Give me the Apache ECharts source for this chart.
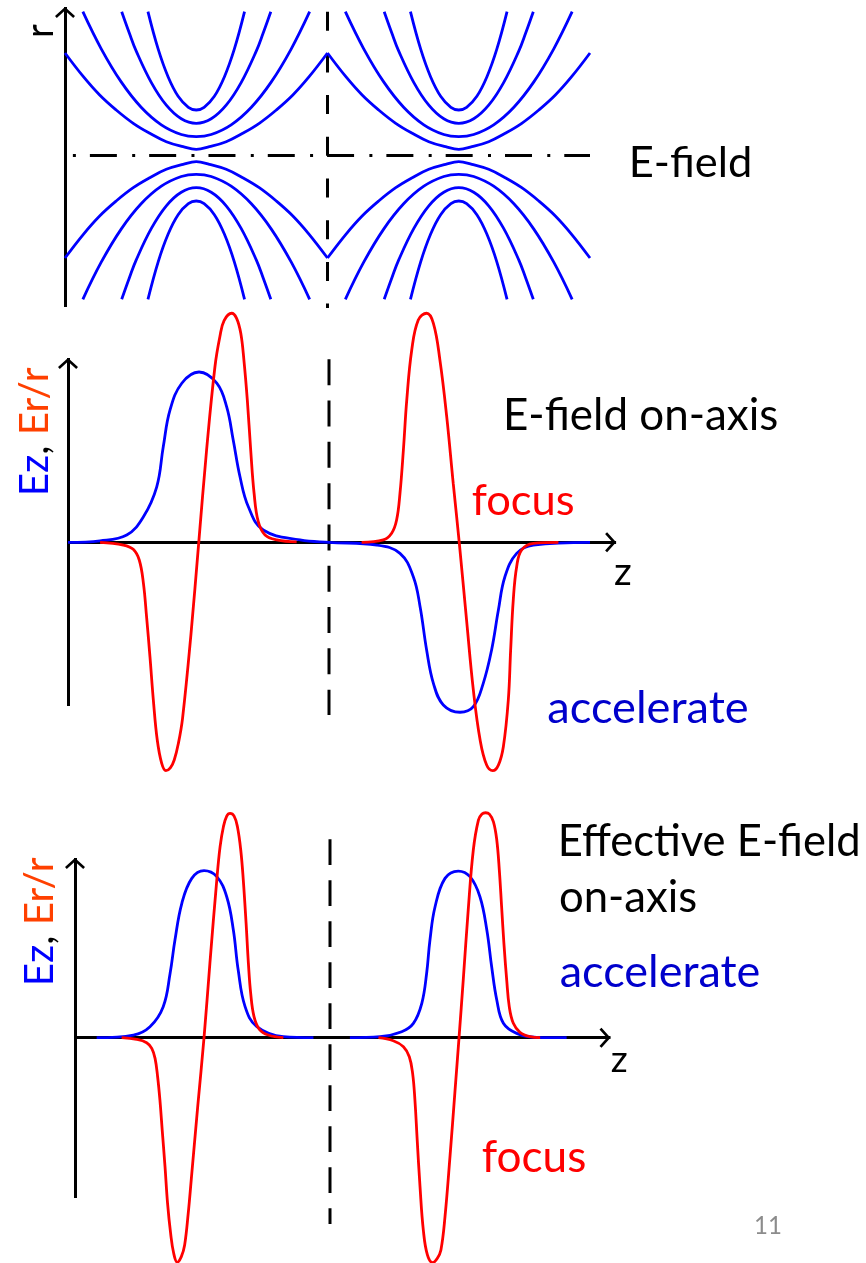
<!DOCTYPE html>
<html>
<head>
<meta charset="utf-8">
<title>E-field on-axis</title>
<script src="https://cdn.jsdelivr.net/npm/echarts@6/dist/echarts.min.js"></script>
<style>
html,body{margin:0;padding:0;background:#ffffff;}
#chart{width:866px;height:1263px;}
</style>
</head>
<body>
<div id="chart"></div>
<script>
// ================= DATA =================
// Top panel: field lines. Half arcs measured from a cell centre outwards
// (dz = distance from the cell centre along z, r = radius of the upper arc).
const arc1Dz = [0, 0.050, 0.114, 0.177, 0.240, 0.305, 0.368, 0.430, 0.5];
const arc1R  = [0.062, 0.088, 0.138, 0.222, 0.322, 0.455, 0.605, 0.788, 1.025];
const arc2Dz = [0, 0.057, 0.133, 0.210, 0.286, 0.362, 0.432];
const arc2R  = [0.188, 0.210, 0.307, 0.483, 0.736, 1.067, 1.438];
const arc3Dz = [0, 0.057, 0.114, 0.171, 0.229, 0.255, 0.284];
const arc3R  = [0.322, 0.367, 0.503, 0.729, 1.046, 1.225, 1.438];
const arc4Dz = [0, 0.030, 0.069, 0.107, 0.145, 0.184];
const arc4R  = [0.455, 0.482, 0.592, 0.785, 1.063, 1.438];
const cellCentres = [0.5, 1.5];
const cellBoundary = 1;

// Middle panel: E-field on-axis (Ez blue, Er/r red)
const midBlueZ = [0, 0.123, 0.225, 0.289, 0.340, 0.365, 0.391, 0.436, 0.502, 0.570, 0.608, 0.633, 0.659, 0.691, 0.748, 0.889, 1.0, 1.183, 1.272, 1.323, 1.349, 1.374, 1.400, 1.438, 1.502, 1.553, 1.591, 1.623, 1.649, 1.674, 1.719, 1.783, 2.0];
const midBlueV = [0, 0.009, 0.043, 0.150, 0.326, 0.561, 0.777, 0.934, 1.0, 0.934, 0.795, 0.601, 0.385, 0.209, 0.072, 0.014, 0, -0.016, -0.065, -0.202, -0.378, -0.632, -0.828, -0.955, -0.998, -0.965, -0.828, -0.632, -0.398, -0.202, -0.065, -0.016, 0];
const midRed1Z = [0.123, 0.212, 0.250, 0.273, 0.289, 0.301, 0.314, 0.327, 0.342, 0.359, 0.375, 0.392, 0.407, 0.423, 0.439, 0.471, 0.501, 0.531, 0.563, 0.582, 0.598, 0.627, 0.646, 0.662, 0.674, 0.687, 0.700, 0.713, 0.729, 0.755, 0.800, 0.876];
const midRed1V = [0, -0.016, -0.041, -0.104, -0.241, -0.437, -0.671, -0.926, -1.161, -1.298, -1.341, -1.325, -1.278, -1.180, -1.032, -0.542, 0, 0.542, 1.031, 1.208, 1.302, 1.345, 1.315, 1.227, 1.070, 0.836, 0.542, 0.288, 0.121, 0.043, 0.014, 0.002];
const midRed2Z = [1.125, 1.208, 1.240, 1.259, 1.272, 1.285, 1.298, 1.317, 1.342, 1.374, 1.400, 1.425, 1.451, 1.476, 1.499, 1.527, 1.553, 1.579, 1.604, 1.627, 1.649, 1.668, 1.687, 1.696, 1.706, 1.719, 1.738, 1.783, 1.879];
const midRed2V = [0, 0.014, 0.053, 0.131, 0.288, 0.542, 0.836, 1.129, 1.305, 1.345, 1.286, 1.070, 0.738, 0.346, 0, -0.456, -0.867, -1.161, -1.308, -1.341, -1.308, -1.200, -0.926, -0.632, -0.339, -0.143, -0.045, -0.006, 0];

// Bottom panel: effective E-field on-axis
const botBlue1Z = [0.085, 0.229, 0.294, 0.346, 0.373, 0.392, 0.419, 0.458, 0.506, 0.556, 0.595, 0.621, 0.640, 0.667, 0.713, 0.817, 0.935];
const botBlue1V = [0, 0.016, 0.066, 0.186, 0.386, 0.585, 0.805, 0.954, 1.0, 0.964, 0.844, 0.645, 0.405, 0.186, 0.066, 0.006, 0];
const botBlue2Z = [1.078, 1.196, 1.281, 1.327, 1.360, 1.379, 1.392, 1.412, 1.451, 1.503, 1.549, 1.588, 1.615, 1.634, 1.654, 1.680, 1.732, 1.811, 1.928];
const botBlue2V = [0, 0.006, 0.036, 0.086, 0.206, 0.386, 0.585, 0.784, 0.954, 0.998, 0.964, 0.844, 0.645, 0.425, 0.226, 0.086, 0.026, 0.002, 0];
const botRed1Z = [0.183, 0.242, 0.281, 0.301, 0.314, 0.324, 0.333, 0.342, 0.353, 0.363, 0.375, 0.387, 0.401, 0.417, 0.430, 0.444, 0.456, 0.482, 0.506, 0.529, 0.556, 0.569, 0.582, 0.595, 0.608, 0.624, 0.637, 0.650, 0.660, 0.671, 0.680, 0.689, 0.702, 0.723, 0.758, 0.817];
const botRed1V = [0, -0.010, -0.030, -0.064, -0.124, -0.234, -0.373, -0.553, -0.772, -0.992, -1.172, -1.291, -1.345, -1.311, -1.241, -1.052, -0.848, -0.399, 0, 0.445, 0.944, 1.144, 1.263, 1.327, 1.343, 1.327, 1.263, 1.124, 0.944, 0.685, 0.445, 0.265, 0.126, 0.050, 0.016, 0];
const botRed2Z = [1.190, 1.248, 1.288, 1.311, 1.324, 1.333, 1.342, 1.353, 1.366, 1.382, 1.403, 1.421, 1.435, 1.451, 1.471, 1.490, 1.506, 1.523, 1.542, 1.562, 1.582, 1.596, 1.610, 1.625, 1.641, 1.654, 1.664, 1.673, 1.682, 1.693, 1.703, 1.719, 1.745, 1.784, 1.824];
const botRed2V = [0, -0.018, -0.054, -0.114, -0.214, -0.373, -0.613, -0.892, -1.152, -1.301, -1.347, -1.321, -1.271, -1.072, -0.703, -0.323, 0, 0.355, 0.764, 1.124, 1.303, 1.339, 1.347, 1.339, 1.293, 1.184, 1.004, 0.784, 0.565, 0.345, 0.186, 0.086, 0.032, 0.006, 0];

// Extents of the reference lines (dashed cell boundary, dash-dot axis)
const topDashR = [1.438, -1.525];
const midDashV = [1.075, -1.014];
const botDashV = [1.188, -1.116];
const axisLineZ = [0.030, 2.0];

// ================= LAYOUT / STYLE =================
const BLUE = '#0000FF', RED = '#FF0000', ORANGE = '#FF4000', DBLUE = '#0000CC', GREY = '#8C8C8C';
const FAMILY = 'Lato';
const LW = 2.8;
const ARROW = 'path://M10,0 L20,9 L18.2,11 L10,3.6 L1.8,11 L0,9 Z';

const zip = (a, b) => a.map((v, i) => [v, b[i]]);

function lineSeries(idx, data, color, width, dash, z) {
  return {
    type: 'line', xAxisIndex: idx, yAxisIndex: idx, data: data,
    smooth: dash ? false : 0.4, symbol: 'none', showSymbol: false,
    clip: false, silent: true, animation: false, z: z || 3,
    lineStyle: { color: color, width: width, type: dash || 'solid', cap: 'butt' },
    emphasis: { disabled: true }
  };
}

const series = [];
// cell-boundary dashed lines and dash-dot axis (under the curves)
series.push(lineSeries(0, [[cellBoundary, topDashR[0]], [cellBoundary, topDashR[1]]], '#000', 3, [19, 22.7], 2));
series.push(lineSeries(1, [[cellBoundary, midDashV[0]], [cellBoundary, midDashV[1]]], '#000', 3, [26, 15.3], 2));
series.push(lineSeries(2, [[cellBoundary, botDashV[0]], [cellBoundary, botDashV[1]]], '#000', 3, [25.7, 15.3], 2));
series.push(lineSeries(0, [[axisLineZ[0], 0], [axisLineZ[1], 0]], '#000', 3, [3, 14, 27, 15.3], 2));

// field lines: each arc mirrored about its cell centre, upper and lower family
const arcs = [[arc1Dz, arc1R], [arc2Dz, arc2R], [arc3Dz, arc3R], [arc4Dz, arc4R]];
cellCentres.forEach(function (c) {
  arcs.forEach(function (arc) {
    [1, -1].forEach(function (s) {
      const dz = arc[0], r = arc[1];
      const pts = [];
      for (let i = dz.length - 1; i >= 1; i--) pts.push([c - dz[i], s * r[i]]);
      for (let i = 0; i < dz.length; i++) pts.push([c + dz[i], s * r[i]]);
      series.push(lineSeries(0, pts, BLUE, LW, null, 3));
    });
  });
});

series.push(lineSeries(1, zip(midBlueZ, midBlueV), BLUE, LW, null, 3));
series.push(lineSeries(1, zip(midRed1Z, midRed1V), RED, LW, null, 4));
series.push(lineSeries(1, zip(midRed2Z, midRed2V), RED, LW, null, 4));
series.push(lineSeries(2, zip(botBlue1Z, botBlue1V), BLUE, LW, null, 3));
series.push(lineSeries(2, zip(botBlue2Z, botBlue2V), BLUE, LW, null, 3));
series.push(lineSeries(2, zip(botRed1Z, botRed1V), RED, LW, null, 4));
series.push(lineSeries(2, zip(botRed2Z, botRed2V), RED, LW, null, 4));

const axisLineArrow = {
  show: true, onZero: true, symbol: ['none', ARROW], symbolSize: [20, 11], symbolOffset: [0, -5.5],
  lineStyle: { color: '#000', width: 3, cap: 'butt' }
};
function hiddenBits(o) {
  o.axisTick = { show: false }; o.axisLabel = { show: false }; o.splitLine = { show: false };
  return o;
}

// ================= TEXT =================
const mctx = document.createElement('canvas').getContext('2d');
function fit(str, inkW) {
  mctx.textBaseline = 'alphabetic';
  mctx.font = '100px ' + FAMILY;
  let m = mctx.measureText(str);
  const fs = 100 * inkW / (m.actualBoundingBoxLeft + m.actualBoundingBoxRight);
  const font = fs.toFixed(2) + 'px ' + FAMILY;
  mctx.font = font;
  m = mctx.measureText(str);
  const abl = m.actualBoundingBoxLeft, ascA = m.actualBoundingBoxAscent;
  mctx.textBaseline = 'middle';
  const ascM = mctx.measureText(str).actualBoundingBoxAscent;
  mctx.textBaseline = 'alphabetic';
  return { font: font, abl: abl, mid: ascA - ascM };
}

// horizontal labels: ink left, baseline, ink width
const labels = [
  { t: 'E-field', x: 631.7, b: 177.3, w: 116.7, c: '#000000' },
  { t: 'E-field on-axis', x: 507, b: 430, w: 270, c: '#000000' },
  { t: 'focus', x: 472.7, b: 515, w: 100.7, c: RED },
  { t: 'z', x: 615, b: 585, w: 15.7, c: '#000000' },
  { t: 'accelerate', x: 548.3, b: 722.7, w: 198.3, c: DBLUE },
  { t: 'Effective E-field', x: 560.7, b: 856, w: 296, c: '#000000' },
  { t: 'on-axis', x: 560, b: 911.7, w: 135, c: '#000000' },
  { t: 'accelerate', x: 560.7, b: 986.7, w: 197.6, c: DBLUE },
  { t: 'z', x: 611.7, b: 1071.7, w: 15, c: '#000000' },
  { t: 'focus', x: 482.7, b: 1171.7, w: 102.3, c: RED },
  { t: '11', x: 755, b: 1234, w: 24.3, c: GREY }
];
// vertical (rotated) labels: ink start (bottom y), baseline x, ink length
const vlabels = [
  { parts: [['r', '#000000']], y: 36, b: 53.3, w: 11 },
  { parts: [['Ez', BLUE], [', ', '#000000'], ['Er/r', ORANGE]], y: 493.3, b: 48.3, w: 125 },
  { parts: [['Ez', BLUE], [', ', '#000000'], ['Er/r', ORANGE]], y: 983.3, b: 53.3, w: 125 }
];

const graphics = [];
labels.forEach(function (L) {
  const f = fit(L.t, L.w);
  graphics.push({
    type: 'text', x: L.x + f.abl, y: L.b - f.mid, silent: true, z: 10,
    style: { text: L.t, font: f.font, fill: L.c, align: 'left', verticalAlign: 'middle', textAlign: 'left', textVerticalAlign: 'middle' }
  });
});
vlabels.forEach(function (V) {
  const str = V.parts.map(p => p[0]).join('');
  const f = fit(str, V.w);
  const rich = {};
  let txt = '';
  V.parts.forEach(function (p, i) {
    rich['p' + i] = { fill: p[1], font: f.font };
    txt += '{p' + i + '|' + p[0] + '}';
  });
  graphics.push({
    type: 'text', x: V.b - f.mid, y: V.y - f.abl, rotation: Math.PI / 2, silent: true, z: 10,
    style: { text: txt, rich: rich, font: f.font, fill: '#000', align: 'left', verticalAlign: 'middle', textAlign: 'left', textVerticalAlign: 'middle' }
  });
});

// ================= CHART =================
const chart = echarts.init(document.getElementById('chart'), null, { renderer: 'canvas' });
chart.setOption({
  animation: false,
  backgroundColor: '#ffffff',
  grid: [
    { left: 65, top: 7, width: 525, height: 300, containLabel: false, outerBoundsMode: 'none' },
    { left: 68, top: 358, width: 548.1, height: 348, containLabel: false, outerBoundsMode: 'none' },
    { left: 75, top: 858, width: 535.5, height: 340, containLabel: false, outerBoundsMode: 'none' }
  ],
  xAxis: [
    { gridIndex: 0, type: 'value', min: 0, max: 2, show: false },
    hiddenBits({ gridIndex: 1, type: 'value', min: 0, max: 2.1, axisLine: axisLineArrow }),
    hiddenBits({ gridIndex: 2, type: 'value', min: 0, max: 2.1, axisLine: axisLineArrow })
  ],
  yAxis: [
    hiddenBits({ gridIndex: 0, type: 'value', min: -1.515, max: 1.485, axisLine: axisLineArrow }),
    hiddenBits({ gridIndex: 1, type: 'value', min: -0.9612, max: 1.0822, axisLine: axisLineArrow }),
    hiddenBits({ gridIndex: 2, type: 'value', min: -0.9599, max: 1.076, axisLine: axisLineArrow })
  ],
  series: series,
  graphic: { elements: graphics }
});
</script>
</body>
</html>
